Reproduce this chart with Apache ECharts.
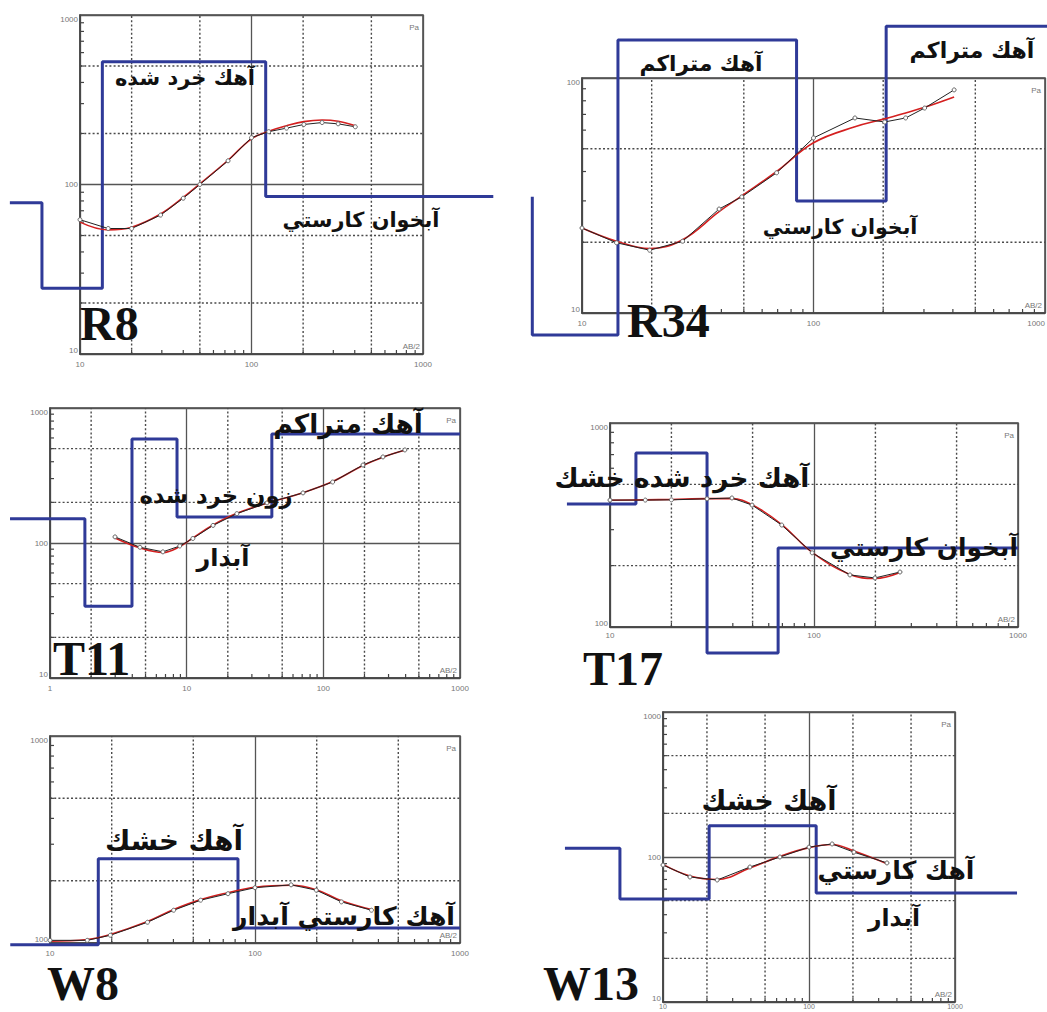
<!DOCTYPE html>
<html>
<head>
<meta charset="utf-8">
<script src="https://cdn.jsdelivr.net/npm/echarts@6/dist/echarts.min.js"></script>
<style>
  html, body { margin: 0; padding: 0; background: #fff; }
  #chart { width: 1047px; height: 1012px; }
</style>
</head>
<body>
<div id="chart"></div>
<script>
// ---------------- DATA ----------------
const panelNames = ['R8', 'R34', 'T11', 'T17', 'W8', 'W13'];

// axis ranges [min, max]
const xRanges = [[10, 1000], [10, 1000], [1, 1000], [10, 1000], [10, 1000], [10, 1000]];
const yRanges = [[10, 1000], [10, 100], [10, 1000], [100, 1000], [100, 1000], [10, 1000]];

// R8
const r8AB  = [10, 14.6, 20, 29.5, 40, 50, 73, 100, 126, 160, 202, 258, 320, 403];
const r8Obs = [62, 55, 55, 66, 83, 100, 138, 189, 205, 215, 226, 232, 228, 219];
const r8Fit = [60, 54, 56, 67, 84, 101, 139, 186, 206, 222, 235, 240, 236, 222];
const r8LayerRho = [78, 24.4, 530, 85];
const r8LayerBounds = [6, 13.5, 121];
const r8LayerEnds = [3.9, 2570];

// R34
const r34AB  = [10, 14.1, 19.6, 27.2, 39.1, 49, 69.3, 100, 151, 203, 250, 302, 405];
const r34Obs = [23, 19.9, 18.5, 20.2, 27.7, 31.2, 39.5, 55.6, 67.6, 65, 67.6, 74.5, 89];
const r34Fit = [23, 20.2, 18.8, 20.5, 27, 31.5, 40, 53, 62, 67, 71, 75, 83];
const r34LayerRho = [31.2, 8.06, 145, 30, 166];
const r34LayerBounds = [6.1, 14.3, 84.5, 206];
const r34LayerEnds = [6.1, 1200];

// T11
const t11AB  = [2.99, 4.55, 6.7, 8.9, 11.1, 15.6, 23.3, 38.7, 71, 117, 195, 273, 395];
const t11Obs = [111, 93, 86, 95, 108, 135, 165, 198, 235, 283, 378, 434, 489];
const t11Fit = [109, 92, 85, 94, 109, 136, 166, 197, 236, 285, 375, 432, 486];
const t11LayerRho = [151, 34, 589, 156, 641];
const t11LayerBounds = [1.8, 3.98, 8.5, 42];
const t11LayerEnds = [0.51, 1000];

// T17
const t17AB  = [10, 14.9, 20, 29.9, 39.6, 49.7, 69.5, 98, 150, 199, 264];
const t17Obs = [419, 419, 420, 425, 429, 396, 316, 231, 180, 174, 186];
const t17Fit = [418, 420, 422, 426, 426, 398, 318, 232, 181, 173, 185];
const t17LayerRho = [401, 713, 74.6, 244];
const t17LayerBounds = [13.4, 29.9, 66.7];
const t17LayerEnds = [6.15, 1000];

// W8
const w8AB  = [10, 15.2, 19.7, 29.9, 40.1, 54.3, 73.8, 100, 150, 199, 264, 370];
const w8Obs = [103, 103, 109, 126, 144, 161, 173, 185, 191, 180, 158, 144];
const w8Fit = [102, 104, 110, 127, 145, 162, 175, 186, 190, 181, 160, 145];
const w8LayerRho = [98, 255, 118];
const w8LayerBounds = [17.2, 82.6];
const w8LayerEnds = [6.4, 1000];

// W13
const w13AB  = [10, 15.3, 23.5, 39.4, 63.2, 100, 144, 203, 342];
const w13Obs = [88, 72.8, 69.4, 85.3, 100, 117, 123, 108, 91];
const w13Fit = [89, 74, 70, 84, 101, 116, 122, 110, 90];
const w13LayerRho = [115, 51.3, 164, 56.5];
const w13LayerBounds = [5.07, 20.7, 112];
const w13LayerEnds = [2.13, 2660];

// Persian labels
const r8Labels  = ['آهك خرد شده', 'آبخوان كارستي'];
const r34Labels = ['آهك متراكم', 'آهك متراكم', 'آبخوان كارستي'];
const t11Labels = ['آهك متراكم', 'زون خرد شده', 'آبدار'];
const t17Labels = ['آهك خرد شده خشك', 'آبخوان كارستي'];
const w8Labels  = ['آهك خشك', 'آهك كارستي آبدار'];
const w13Labels = ['آهك خشك', 'آهك كارستي', 'آبدار'];

const dashFactors = [2, 5];
const minorFactors = [3, 4, 6, 7, 8, 9];
const unitY = 'Pa';
const unitX = 'AB/2';

// ---------------- LAYOUT ----------------
const gridRects = [
  { left: 80,  top: 15,  width: 343, height: 339 },
  { left: 582, top: 78,  width: 463, height: 235 },
  { left: 50,  top: 408, width: 410, height: 270 },
  { left: 610, top: 423, width: 408, height: 204 },
  { left: 50,  top: 736, width: 410, height: 207 },
  { left: 663, top: 712, width: 292, height: 290 }
];
const xLabelMargin = [6, 6, 6, 4, 6, 1];
const xLabelSize = [8, 8, 8, 8, 8, 7];
// [centerX, centerY, targetWidth]
const labelPos = [
  [[185, 78, 140], [361, 220, 157]],
  [[701, 63, 123], [972, 50, 125], [840, 227, 155]],
  [[348, 423, 150], [216, 495, 153], [223, 558, 53]],
  [[682, 478, 255], [924, 547, 188]],
  [[174, 840, 138], [344, 916, 222]],
  [[769, 800, 135], [896, 870, 157], [894, 918, 52]]
];
const namePos = [[80, 323], [627, 320], [53, 658], [583, 668], [47, 983], [543, 983]];
const EXT = 1; // decades of extension for the layer-model overlay axes

const abs  = [r8AB, r34AB, t11AB, t17AB, w8AB, w13AB];
const obs  = [r8Obs, r34Obs, t11Obs, t17Obs, w8Obs, w13Obs];
const fits = [r8Fit, r34Fit, t11Fit, t17Fit, w8Fit, w13Fit];
const layerRhos = [r8LayerRho, r34LayerRho, t11LayerRho, t17LayerRho, w8LayerRho, w13LayerRho];
const layerBounds = [r8LayerBounds, r34LayerBounds, t11LayerBounds, t17LayerBounds, w8LayerBounds, w13LayerBounds];
const layerEnds = [r8LayerEnds, r34LayerEnds, t11LayerEnds, t17LayerEnds, w8LayerEnds, w13LayerEnds];
const labelTexts = [r8Labels, r34Labels, t11Labels, t17Labels, w8Labels, w13Labels];

const arabicFont = '"DejaVu Sans", sans-serif';
const measureCtx = document.createElement('canvas').getContext('2d');
function fitSize(text, w) {
  measureCtx.font = 'bold 20px ' + arabicFont;
  const m = measureCtx.measureText(text).width || 100;
  return Math.round(20 * w / m * 10) / 10;
}

function stepPoints(rho, bounds, ends) {
  const pts = [[ends[0], rho[0]]];
  for (let i = 0; i < bounds.length; i++) {
    pts.push([bounds[i], rho[i]]);
    pts.push([bounds[i], rho[i + 1]]);
  }
  pts.push([ends[1], rho[rho.length - 1]]);
  return pts;
}

function decadeValues(range, factors) {
  const out = [];
  for (let d = range[0]; d < range[1]; d *= 10) {
    factors.forEach(f => { const v = f * d; if (v > range[0] * 1.0001 && v < range[1] * 0.9999) out.push(v); });
  }
  return out;
}

const grids = [], xAxes = [], yAxes = [], series = [], graphics = [];
const labelFmt = v => String(Math.round(v));

// visible panels
panelNames.forEach((name, i) => {
  const g = gridRects[i];
  grids.push({ left: g.left, top: g.top, width: g.width, height: g.height, show: true,
               containLabel: false, outerBoundsMode: 'none',
               borderColor: '#444', borderWidth: 1.5, backgroundColor: 'transparent' });
  const axisCommon = {
    type: 'log', logBase: 10, gridIndex: i,
    axisLine: { show: true, lineStyle: { color: '#444', width: 1.5 } },
    axisTick: { show: false },
    splitLine: { show: true, lineStyle: { color: '#555', width: 1.3 } }
  };
  const lab = { fontSize: 8, color: '#777', fontFamily: '"Liberation Sans Narrow", "Liberation Sans", sans-serif', hideOverlap: false, formatter: labelFmt };
  xAxes.push(Object.assign({}, axisCommon, { min: xRanges[i][0], max: xRanges[i][1],
    axisLabel: Object.assign({}, lab, { margin: xLabelMargin[i], fontSize: xLabelSize[i], alignMaxLabel: i === 1 ? 'right' : null }) }));
  yAxes.push(Object.assign({}, axisCommon, { min: yRanges[i][0], max: yRanges[i][1],
    axisLabel: Object.assign({}, lab, { margin: 2, verticalAlignMinLabel: 'bottom', verticalAlignMaxLabel: 'top' }) }));
});

// overlay axes for layer models (same scale, one decade wider on every side)
panelNames.forEach((name, i) => {
  const g = gridRects[i];
  const nx = Math.log10(xRanges[i][1] / xRanges[i][0]);
  const ny = Math.log10(yRanges[i][1] / yRanges[i][0]);
  const dx = g.width / nx, dy = g.height / ny;
  grids.push({ left: g.left - dx * EXT, top: g.top - dy * EXT,
               width: g.width + 2 * dx * EXT, height: g.height + 2 * dy * EXT, show: false,
               containLabel: false, outerBoundsMode: 'none' });
  xAxes.push({ type: 'log', logBase: 10, gridIndex: 6 + i, show: false,
               min: xRanges[i][0] / Math.pow(10, EXT), max: xRanges[i][1] * Math.pow(10, EXT) });
  yAxes.push({ type: 'log', logBase: 10, gridIndex: 6 + i, show: false,
               min: yRanges[i][0] / Math.pow(10, EXT), max: yRanges[i][1] * Math.pow(10, EXT) });
});

panelNames.forEach((name, i) => {
  const g = gridRects[i];
  const xr = xRanges[i], yr = yRanges[i];
  // dashed grid lines and minor ticks
  series.push({
    type: 'custom', xAxisIndex: i, yAxisIndex: i, silent: true, z: 1, clip: false,
    data: [[xr[0], yr[0]]],
    renderItem: function (params, api) {
      const ch = [];
      const dash = { stroke: '#4a4a4a', lineWidth: 1.4, lineDash: [2, 2.2] };
      decadeValues(xr, dashFactors).forEach(v => {
        const a = api.coord([v, yr[0]]), b = api.coord([v, yr[1]]);
        ch.push({ type: 'line', shape: { x1: a[0], y1: a[1], x2: b[0], y2: b[1] }, style: dash });
      });
      decadeValues(yr, dashFactors).forEach(v => {
        const a = api.coord([xr[0], v]), b = api.coord([xr[1], v]);
        ch.push({ type: 'line', shape: { x1: a[0], y1: a[1], x2: b[0], y2: b[1] }, style: dash });
      });
      const tick = { stroke: '#444', lineWidth: 1.2 };
      decadeValues(xr, minorFactors.concat(dashFactors)).forEach(v => {
        const a = api.coord([v, yr[0]]);
        ch.push({ type: 'line', shape: { x1: a[0], y1: a[1], x2: a[0], y2: a[1] - 4 }, style: tick });
      });
      decadeValues(yr, minorFactors.concat(dashFactors)).forEach(v => {
        const a = api.coord([xr[0], v]);
        ch.push({ type: 'line', shape: { x1: a[0], y1: a[1], x2: a[0] + 4, y2: a[1] }, style: tick });
      });
      return { type: 'group', children: ch };
    }
  });
  // layer model (blue steps) on the overlay axes
  series.push({
    type: 'line', xAxisIndex: 6 + i, yAxisIndex: 6 + i, clip: false, z: 3, silent: true,
    data: stepPoints(layerRhos[i], layerBounds[i], layerEnds[i]),
    symbol: 'none', lineStyle: { color: '#2f3a98', width: 3 }
  });
  // fitted curve (red)
  series.push({
    type: 'line', xAxisIndex: i, yAxisIndex: i, z: 4, silent: true, smooth: 0.4,
    data: abs[i].map((x, k) => [x, fits[i][k]]),
    symbol: 'none', lineStyle: { color: '#d42020', width: 1.6 }
  });
  // observed curve (black with circles)
  series.push({
    type: 'line', xAxisIndex: i, yAxisIndex: i, z: 5, silent: true,
    data: abs[i].map((x, k) => [x, obs[i][k]]),
    symbol: 'circle', symbolSize: 4, showAllSymbol: true,
    itemStyle: { color: '#fff', borderColor: '#666', borderWidth: 1 },
    lineStyle: { color: '#222', width: 1 }
  });

  // units
  graphics.push({ type: 'text', x: g.left + g.width - 4, y: g.top + 12, z: 50,
    style: { text: unitY, fontSize: 8, fill: '#777', align: 'right', textAlign: 'right', verticalAlign: 'middle', textVerticalAlign: 'middle', fontFamily: 'Liberation Sans' } });
  graphics.push({ type: 'text', x: g.left + g.width - 3, y: g.top + g.height - 8, z: 50,
    style: { text: unitX, fontSize: 8, fill: '#777', align: 'right', textAlign: 'right', verticalAlign: 'middle', textVerticalAlign: 'middle', fontFamily: 'Liberation Sans' } });

  // Persian labels
  labelTexts[i].forEach((t, k) => {
    const p = labelPos[i][k];
    graphics.push({ type: 'text', x: p[0], y: p[1], z: 60,
      style: { text: t, fontSize: fitSize(t, p[2]), fontWeight: 'bold', fontFamily: arabicFont, fill: '#111',
               align: 'center', textAlign: 'center', verticalAlign: 'middle', textVerticalAlign: 'middle' } });
  });
  // panel name
  graphics.push({ type: 'text', x: namePos[i][0], y: namePos[i][1], z: 60,
    style: { text: name, fontSize: 48, lineHeight: 38, fontWeight: 'bold', fontFamily: '"Liberation Serif", "Times New Roman", serif', fill: '#111',
             align: 'left', textAlign: 'left', verticalAlign: 'middle', textVerticalAlign: 'middle' } });
});

const chart = echarts.init(document.getElementById('chart'), null, { renderer: 'svg', width: 1047, height: 1012 });
chart.setOption({
  backgroundColor: '#fff',
  animation: false,
  grid: grids,
  xAxis: xAxes,
  yAxis: yAxes,
  series: series,
  graphic: { elements: graphics }
});
</script>
</body>
</html>
